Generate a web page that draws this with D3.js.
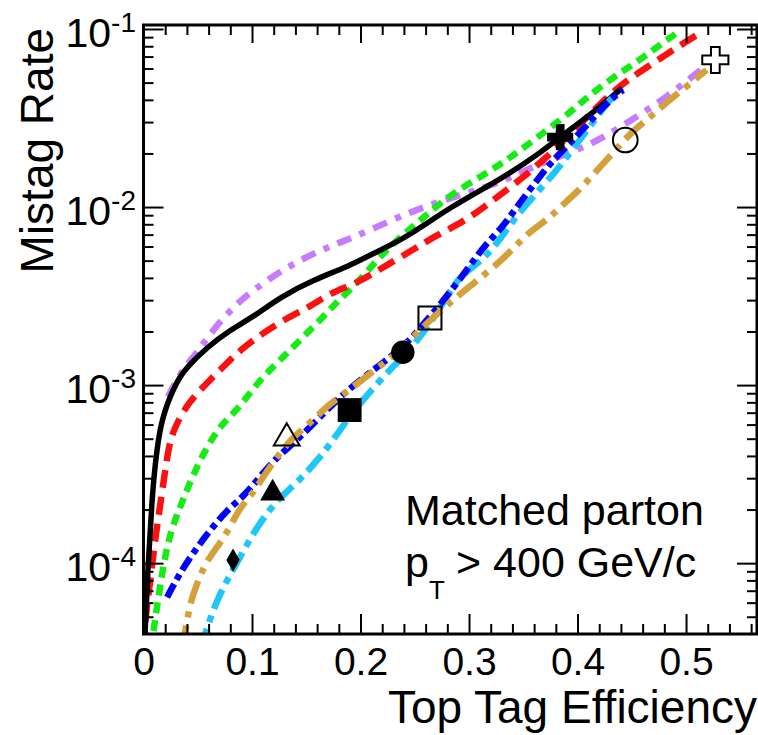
<!DOCTYPE html>
<html>
<head>
<meta charset="utf-8">
<script src="https://cdn.jsdelivr.net/npm/d3@7"></script>
<style>
  body { margin: 0; background: #fff; }
  text { font-family: "Liberation Sans", Arial, Helvetica, sans-serif; fill: #000; }
</style>
</head>
<body>
<svg id="chart" width="758" height="735"></svg>
<script>
// axis ticks
const xTickValues = [0, 0.1, 0.2, 0.3, 0.4, 0.5];
const yTickExponents = [-1, -2, -3, -4];

// curves, [top tag efficiency, mistag rate]
const blackCurve = [[0.0005, 3.0e-5], [0.0014, 4.05e-5], [0.0041, 9.5e-5], [0.0078, 2.26e-4], [0.0102, 3.3e-4],
  [0.0124, 4.31e-4], [0.015, 5.5e-4], [0.018, 6.61e-4], [0.0225, 8.0e-4], [0.0272, 9.37e-4], [0.033, 1.1e-3],
  [0.040, 1.26e-3], [0.0585, 1.63e-3], [0.0797, 2.04e-3], [0.101, 2.41e-3],
  [0.126, 3.12e-3], [0.156, 3.89e-3], [0.1876, 4.60e-3], [0.218, 5.73e-3], [0.243, 6.78e-3], [0.2825, 1.0e-2],
  [0.3286, 1.42e-2], [0.3654, 2.01e-2], [0.384, 2.47e-2], [0.421, 3.65e-2], [0.441, 4.66e-2]];
const redCurve = [[0.0005, 3.3e-5], [0.0014, 4.79e-5], [0.006, 7.72e-5], [0.0106, 1.35e-4], [0.017, 2.47e-4],
  [0.0226, 4.31e-4], [0.0265, 5.3e-4], [0.0309, 6.12e-4], [0.041, 7.92e-4], [0.0585, 1.03e-3], [0.077, 1.33e-3],
  [0.089, 1.57e-3], [0.110, 1.96e-3], [0.132, 2.38e-3], [0.153, 2.74e-3], [0.172, 3.29e-3], [0.197, 3.74e-3],
  [0.221, 4.60e-3], [0.248, 5.73e-3], [0.267, 6.78e-3], [0.298, 8.45e-3], [0.322, 1.09e-2], [0.347, 1.42e-2],
  [0.372, 1.91e-2], [0.390, 2.47e-2], [0.409, 3.20e-2], [0.427, 4.15e-2], [0.446, 5.17e-2], [0.470, 6.44e-2],
  [0.492, 7.92e-2], [0.513, 9.5e-2]];
const greenCurve = [[0.0075, 3.3e-5], [0.0088, 4.05e-5], [0.0134, 6.2e-5], [0.018, 9.5e-5], [0.0244, 1.47e-4],
  [0.0336, 2.06e-4], [0.041, 2.67e-4], [0.052, 3.79e-4], [0.064, 5.1e-4], [0.0733, 6.12e-4], [0.086, 7.24e-4],
  [0.098, 9.02e-4], [0.110, 1.11e-3], [0.123, 1.33e-3], [0.135, 1.57e-3], [0.147, 1.86e-3], [0.1654, 2.41e-3],
  [0.178, 2.92e-3], [0.197, 3.74e-3], [0.215, 5.04e-3], [0.2336, 6.53e-3], [0.252, 8.13e-3], [0.264, 9.37e-3],
  [0.285, 1.20e-2], [0.3166, 1.55e-2], [0.344, 2.01e-2], [0.372, 2.71e-2], [0.396, 3.51e-2], [0.409, 4.15e-2],
  [0.433, 5.37e-2], [0.4575, 6.70e-2], [0.482, 8.67e-2], [0.4917, 9.5e-2]];
const purpleCurve = [[0.0226, 8.57e-4], [0.0336, 1.17e-3], [0.049, 1.51e-3], [0.064, 2.04e-3], [0.0825, 2.74e-3],
  [0.101, 3.42e-3], [0.132, 4.60e-3], [0.1627, 5.73e-3], [0.1876, 6.53e-3], [0.215, 7.72e-3], [0.243, 9.25e-3],
  [0.285, 1.14e-2], [0.3286, 1.36e-2], [0.3654, 1.77e-2], [0.409, 2.17e-2], [0.4456, 2.96e-2], [0.4825, 4.15e-2],
  [0.5157, 6.04e-2]];
const blueCurve = [[0.0217, 6.44e-5], [0.0336, 8.79e-5], [0.0456, 1.14e-4], [0.0613, 1.53e-4], [0.077, 1.99e-4],
  [0.0917, 2.35e-4], [0.107, 3.04e-4], [0.123, 3.94e-4], [0.1415, 4.91e-4], [0.160, 6.36e-4], [0.178, 8.24e-4],
  [0.1995, 1.07e-3], [0.2207, 1.33e-3], [0.243, 1.72e-3], [0.255, 2.1e-3], [0.266, 2.5e-3], [0.282, 3.3e-3],
  [0.298, 4.43e-3], [0.313, 5.96e-3], [0.331, 7.72e-3], [0.344, 1.0e-2], [0.356, 1.25e-2], [0.372, 1.68e-2],
  [0.384, 2.01e-2], [0.402, 2.60e-2], [0.421, 3.51e-2], [0.433, 4.15e-2], [0.442, 4.54e-2]];
const cyanCurve = [[0.053, 3.3e-5], [0.0567, 4.05e-5], [0.0677, 6.2e-5], [0.077, 8.02e-5], [0.089, 1.08e-4],
  [0.101, 1.47e-4], [0.1138, 1.91e-4], [0.126, 2.35e-4], [0.144, 2.92e-4], [0.1627, 3.94e-4], [0.1747, 4.91e-4],
  [0.1876, 6.36e-4], [0.202, 8.24e-4], [0.2207, 1.11e-3], [0.239, 1.44e-3], [0.255, 1.86e-3], [0.264, 2.23e-3],
  [0.278, 3.0e-3], [0.2917, 4.15e-3], [0.310, 4.85e-3], [0.3286, 6.53e-3], [0.3406, 8.45e-3], [0.359, 1.14e-2],
  [0.381, 1.61e-2], [0.393, 2.01e-2], [0.402, 2.38e-2], [0.414, 2.96e-2], [0.427, 3.84e-2], [0.4346, 4.26e-2]];
const orangeCurve = [[0.036, 3.3e-5], [0.0382, 4.05e-5], [0.0429, 5.96e-5], [0.0493, 7.72e-5], [0.0585, 1.04e-4],
  [0.0705, 1.29e-4], [0.0797, 1.59e-4], [0.089, 2.06e-4], [0.101, 2.47e-4], [0.110, 3.04e-4], [0.123, 3.94e-4],
  [0.135, 4.91e-4], [0.1535, 6.12e-4], [0.172, 7.92e-4], [0.190, 9.37e-4], [0.209, 1.17e-3], [0.230, 1.44e-3],
  [0.2484, 1.86e-3], [0.264, 2.32e-3], [0.296, 3.42e-3], [0.3314, 5.04e-3], [0.3535, 7.14e-3], [0.372, 8.45e-3],
  [0.384, 1.0e-2], [0.402, 1.25e-2], [0.418, 1.61e-2], [0.4327, 2.01e-2], [0.4484, 2.60e-2], [0.467, 3.2e-2],
  [0.4825, 3.89e-2], [0.501, 4.78e-2], [0.519, 5.89e-2]];

// working points
const markerNames = ['filledCross', 'openCross', 'openCircle', 'openSquare', 'filledCircle',
  'filledSquare', 'openTriangle', 'filledTriangle', 'filledDiamond'];
const markerX = [0.384, 0.527, 0.444, 0.264, 0.239, 0.190, 0.132, 0.119, 0.0825];
const markerY = [2.47e-2, 6.7e-2, 2.38e-2, 2.38e-3, 1.53e-3, 7.24e-4, 5.04e-4, 2.47e-4, 1.04e-4];

var curveStyle = [
  {data: purpleCurve, color: '#c77cff', dash: '15,9,6,9'},
  {data: greenCurve, color: '#14ec14', dash: '11,7'},
  {data: redCurve, color: '#ff1010', dash: '18,9'},
  {data: blackCurve, color: '#000', dash: null},
  {data: cyanCurve, color: '#1fc6f8', dash: '21,7,7,7'},
  {data: blueCurve, color: '#0000ff', dash: '15,5,6,5'},
  {data: orangeCurve, color: '#d3a03a', dash: '24,8,6,8'}
];
var markerStyle = {
  filledCross: {type: d3.symbolCross, size: 380, fill: true},
  openCross: {type: d3.symbolCross, size: 380, fill: false},
  openCircle: {type: d3.symbolCircle, size: 480, fill: false},
  filledCircle: {type: d3.symbolCircle, size: 430, fill: true},
  openSquare: {type: d3.symbolSquare, size: 530, fill: false},
  filledSquare: {type: d3.symbolSquare, size: 570, fill: true},
  openTriangle: {type: d3.symbolTriangle, size: 290, fill: false},
  filledTriangle: {type: d3.symbolTriangle, size: 270, fill: true},
  filledDiamond: {type: d3.symbolDiamond, size: 155, fill: true}
};

var plotLeft = 143.5, plotRight = 757, plotTop = 25, plotBottom = 634;
var svg = d3.select('#chart');

var x = d3.scaleLinear().domain([0, 0.5654]).range([plotLeft, plotRight]);
var y = d3.scaleLog().domain([4e-5, 0.1053]).range([plotBottom, plotTop]);

svg.append('clipPath').attr('id', 'plotclip')
  .append('rect').attr('x', plotLeft).attr('y', plotTop)
  .attr('width', plotRight - plotLeft).attr('height', plotBottom - plotTop);

// curves
var line = d3.line().x(function(d){ return x(d[0]); }).y(function(d){ return y(d[1]); })
  .curve(d3.curveBasis);
svg.append('g').attr('clip-path', 'url(#plotclip)')
  .selectAll('path').data(curveStyle).enter().append('path')
  .attr('d', function(d){ return line(d.data); })
  .attr('fill', 'none')
  .attr('stroke', function(d){ return d.color; })
  .attr('stroke-width', function(d){ return d.dash ? 6.5 : 5.5; })
  .attr('stroke-dasharray', function(d){ return d.dash; });

// markers
svg.append('g').selectAll('path').data(markerNames).enter().append('path')
  .attr('transform', function(d, i){ return 'translate(' + x(markerX[i]) + ',' + y(markerY[i]) + ')'; })
  .attr('d', function(d){ return d3.symbol().type(markerStyle[d].type).size(markerStyle[d].size)(); })
  .attr('fill', function(d){ return markerStyle[d].fill ? '#000' : 'none'; })
  .attr('stroke', '#000')
  .attr('stroke-width', function(d){ return markerStyle[d].fill ? 0 : 2; });

// ticks
var xMinor = d3.range(0, 0.565, 0.02).filter(function(v){ return Math.abs(v * 10 - Math.round(v * 10)) > 1e-6; });
var yMinor = [];
[-5, -4, -3, -2, -1].forEach(function(e){
  for (var k = 2; k <= 9; k++) {
    var v = k * Math.pow(10, e);
    if (v > 4e-5 && v < 0.1053) yMinor.push(v);
  }
});
var yMajor = yTickExponents.map(function(e){ return Math.pow(10, e); });

function tickAxis(axis, tx, ty) {
  var g = svg.append('g').attr('transform', 'translate(' + tx + ',' + ty + ')').call(axis);
  g.select('.domain').remove();
  g.selectAll('line').attr('stroke', '#000').attr('stroke-width', 2);
  return g;
}
var xFmt = function(v){ return v === 0 ? '0' : d3.format('.1f')(v); };
var gx = tickAxis(d3.axisBottom(x).tickValues(xTickValues).tickSize(-20).tickPadding(13).tickFormat(xFmt), 0, plotBottom);
gx.selectAll('text').style('font-size', '39px').style('font-family', '"Liberation Sans", Arial, sans-serif');
tickAxis(d3.axisBottom(x).tickValues(xMinor).tickSize(-10).tickFormat(''), 0, plotBottom);
tickAxis(d3.axisTop(x).tickValues(xTickValues).tickSize(-18).tickFormat(''), 0, plotTop);
tickAxis(d3.axisTop(x).tickValues(xMinor).tickSize(-10).tickFormat(''), 0, plotTop);
tickAxis(d3.axisLeft(y).tickValues(yMajor).tickSize(-20).tickFormat(''), plotLeft, 0);
tickAxis(d3.axisLeft(y).tickValues(yMinor).tickSize(-10).tickFormat(''), plotLeft, 0);
tickAxis(d3.axisRight(y).tickValues(yMajor).tickSize(-20).tickFormat(''), plotRight, 0);
tickAxis(d3.axisRight(y).tickValues(yMinor).tickSize(-10).tickFormat(''), plotRight, 0);

// frame
svg.append('rect').attr('x', plotLeft).attr('y', plotTop)
  .attr('width', plotRight - plotLeft).attr('height', plotBottom - plotTop)
  .attr('fill', 'none').attr('stroke', '#000').attr('stroke-width', 3);

// y tick labels, 10^n
yTickExponents.forEach(function(e){
  var t = svg.append('text').attr('x', 136).attr('y', y(Math.pow(10, e)) + 18).attr('text-anchor', 'end');
  t.append('tspan').style('font-size', '41px').text('10');
  t.append('tspan').style('font-size', '28px').attr('dy', -15).text('-' + Math.abs(e));
});

// axis titles
svg.append('text').attr('x', plotRight).attr('y', 723).attr('text-anchor', 'end')
  .style('font-size', '46px').text('Top Tag Efficiency');
svg.append('text').attr('transform', 'translate(53,28) rotate(-90)').attr('text-anchor', 'end')
  .style('font-size', '46px').text('Mistag Rate');

// annotation
svg.append('text').attr('x', 405).attr('y', 525).style('font-size', '43px').text('Matched parton');
var pt = svg.append('text').attr('x', 405).attr('y', 577).style('font-size', '43px');
pt.append('tspan').text('p');
pt.append('tspan').attr('dy', 22).style('font-size', '26px').text('T');
pt.append('tspan').attr('x', 456).attr('dy', -22).text('> 400 GeV/c');
</script>
</body>
</html>
